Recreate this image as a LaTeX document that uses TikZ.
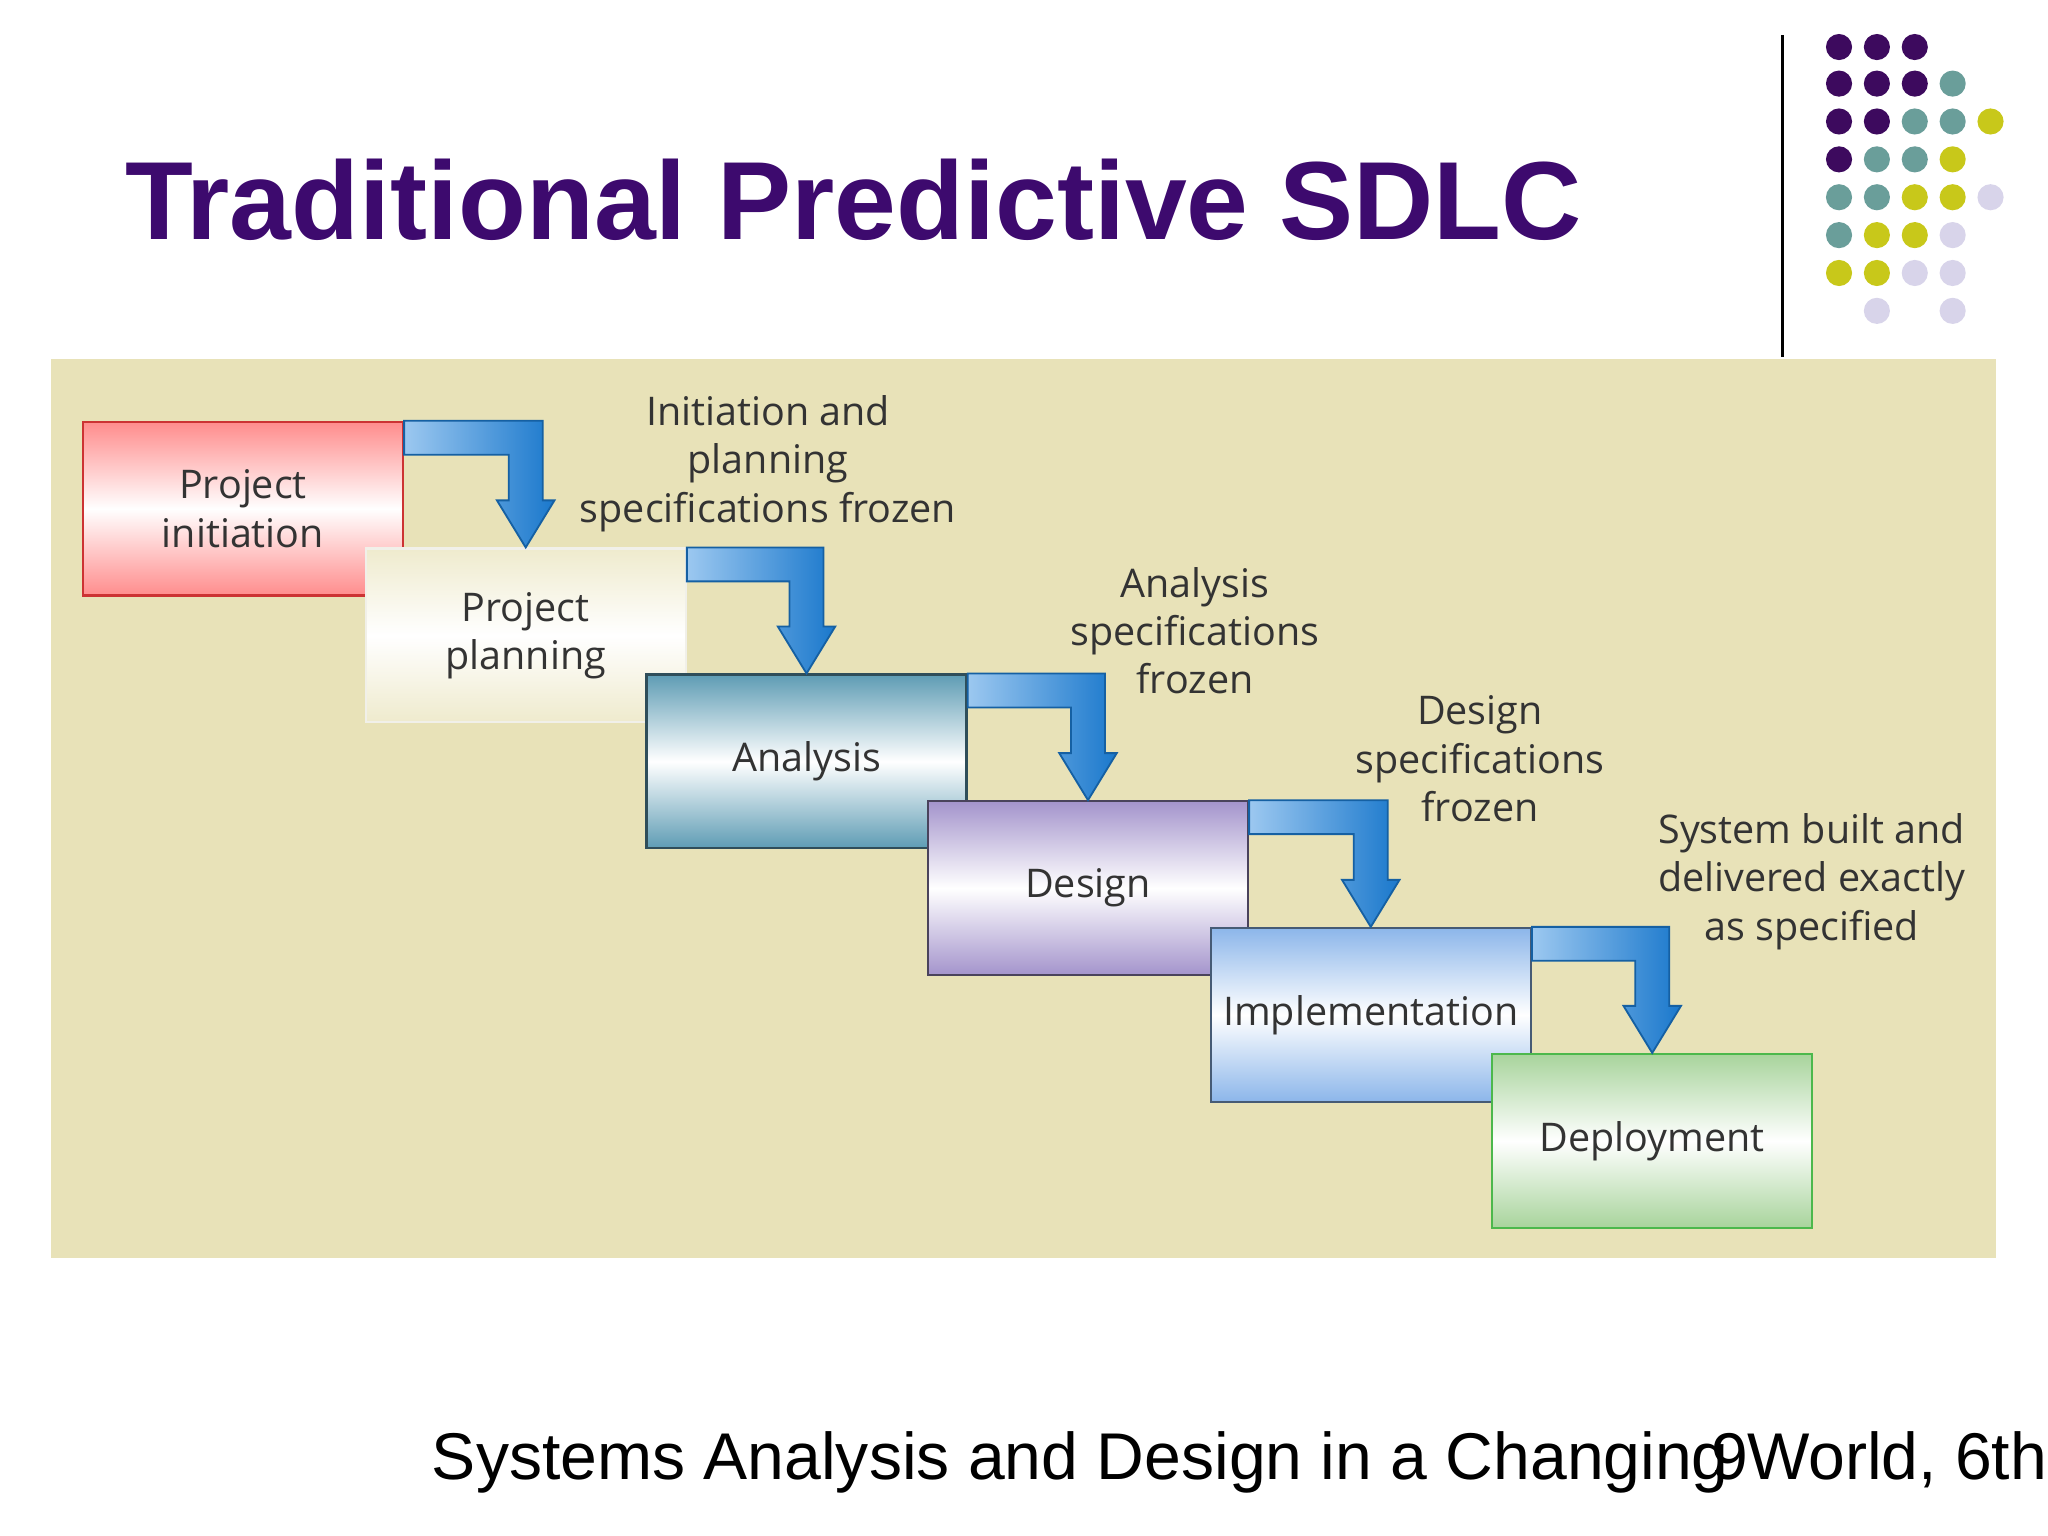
\documentclass[tikz,border=0pt]{standalone}
\usepackage{fontspec}
\setmainfont{Liberation Sans}
\newfontfamily\lab{Open Sans}
\usetikzlibrary{calc}
\definecolor{ttl}{HTML}{3D0A6E}
\definecolor{dP}{HTML}{3D0A5E}
\definecolor{dT}{HTML}{6A9E9A}
\definecolor{dY}{HTML}{C8C81A}
\definecolor{dL}{HTML}{D8D4EA}
\definecolor{panel}{HTML}{E8E2B8}
\definecolor{txt}{HTML}{333333}
\definecolor{cAna}{HTML}{5E9CB4}
\definecolor{cDes}{HTML}{A494CC}
\definecolor{cImp}{HTML}{8CB6EA}
\definecolor{cDep}{HTML}{A8D49C}
\definecolor{arL}{HTML}{9CC8F0}
\definecolor{arD}{HTML}{1A78CC}
\tikzset{
 phase/.style={minimum width=24.5mm,minimum height=13.3mm,inner sep=0pt,align=center,font=\lab\fontsize{8.6}{10.5}\selectfont,text=txt,line width=0.5pt},
 note/.style={align=center,font=\lab\fontsize{8.6}{10.5}\selectfont,text=txt},
 flow/.style={draw=arD!80!black,line width=0.4pt,left color=arL,right color=arD},
 dot/.style={circle,minimum size=2mm,inner sep=0pt}
}
\newcommand{\bentarrow}[2]{%
 \path[flow] (#1.north east) -- ([xshift=1.3mm]#2.north |- #1.north east)
 -- ([xshift=1.3mm,yshift=3.6mm]#2.north) -- ([xshift=2.2mm,yshift=3.6mm]#2.north)
 -- (#2.north) -- ([xshift=-2.2mm,yshift=3.6mm]#2.north) -- ([xshift=-1.3mm,yshift=3.6mm]#2.north)
 -- ([xshift=-1.3mm,yshift=-2.6mm]#2.north |- #1.north east) -- ([yshift=-2.6mm]#1.north east) -- cycle;}
\begin{document}
\begin{tikzpicture}[x=0.1mm,y=-0.1mm]
\useasboundingbox (0,0) rectangle (1568,1176);
\fill[white] (0,0) rectangle (1568,1176);
\fill[panel] (39,275) rectangle (1528,963);
\draw[line width=0.6pt] (1365,27) -- (1365,273);
\node[anchor=base west,inner sep=0pt,text=ttl,font=\fontsize{24.2}{28}\selectfont\bfseries] (title) at (95,183) {Traditional Predictive SDLC};
% dots
\foreach \c/\x/\y in {P/1408/36,P/1437/36,P/1466/36,
 P/1408/64,P/1437/64,P/1466/64,T/1495/64,
 P/1408/93,P/1437/93,T/1466/93,T/1495/93,Y/1524/93,
 P/1408/122,T/1437/122,T/1466/122,Y/1495/122,
 T/1408/151,T/1437/151,Y/1466/151,Y/1495/151,L/1524/151,
 T/1408/180,Y/1437/180,Y/1466/180,L/1495/180,
 Y/1408/209,Y/1437/209,L/1466/209,L/1495/209,
 L/1437/238,L/1495/238}
 \node[dot,fill=d\c] (d\x-\y) at (\x,\y) {};
% phases
\node[phase,draw=red!75!black!80,top color=red!45,bottom color=red!45,middle color=white] (ini) at (186,389.5) {Project\\initiation};
\node[phase,draw=panel!80!black!20!white,top color=panel!70!white,bottom color=panel!70!white,middle color=white] (pla) at (402.5,486.5) {Project\\planning};
\node[phase,draw=cAna!50!black,top color=cAna,bottom color=cAna,middle color=white] (ana) at (617.5,583) {Analysis};
\node[phase,draw=cDes!45!black,top color=cDes,bottom color=cDes,middle color=white] (des) at (833,680) {Design};
\node[phase,draw=cImp!50!black,top color=cImp,bottom color=cImp,middle color=white] (imp) at (1049.5,777) {Implementation};
\node[phase,draw=green!60!black!70,top color=cDep,bottom color=cDep,middle color=white] (dep) at (1265,873.5) {Deployment};
\bentarrow{ini}{pla}
\bentarrow{pla}{ana}
\bentarrow{ana}{des}
\bentarrow{des}{imp}
\bentarrow{imp}{dep}
\node[note] (n1) at (588,355) {Initiation and\\planning\\specifications frozen};
\node[note] (n2) at (915,483) {Analysis\\specifications\\frozen};
\node[note] (n3) at (1133,581) {Design\\specifications\\frozen};
\node[note] (n4) at (1387,675) {System built and\\delivered exactly\\as specified};
\node[anchor=base west,inner sep=0pt,font=\fontsize{14.4}{17}\selectfont] (foot) at (330,1133) {Systems Analysis and Design in a Changing World, 6th};
\node[anchor=base west,inner sep=0pt,font=\fontsize{14.4}{17}\selectfont] (pg) at (1310,1133) {9};
\end{tikzpicture}
\end{document}
